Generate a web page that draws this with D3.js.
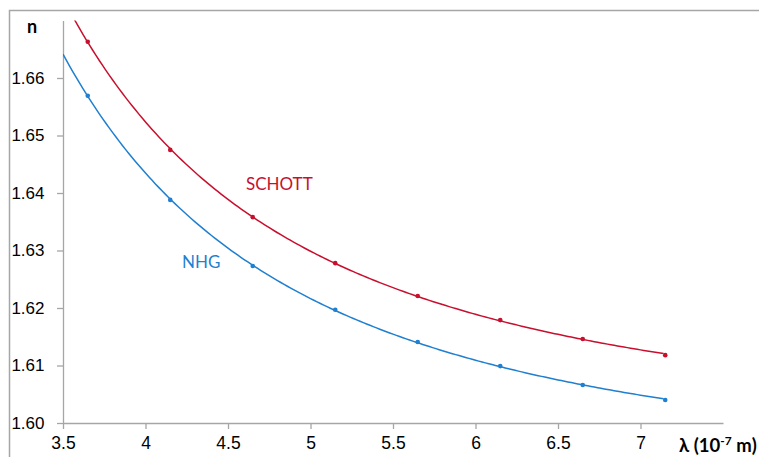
<!DOCTYPE html>
<html>
<head>
<meta charset="utf-8">
<script src="https://cdn.jsdelivr.net/npm/d3@7"></script>
<style>
  body { margin: 0; background: #fff; }
  svg { display: block; font-family: Lato, "Liberation Sans", sans-serif; }
</style>
</head>
<body>
<svg id="chart" width="759" height="457"></svg>
<script>
// wavelength in 10^-7 m, refractive index n
const wavelengths = [3.65, 4.15, 4.65, 5.15, 5.65, 6.15, 6.65, 7.15];
const schott = [1.6663, 1.6475, 1.6358, 1.6278, 1.6221, 1.6179, 1.6146, 1.6118];
const nhg    = [1.6569, 1.6388, 1.6273, 1.6197, 1.6141, 1.6099, 1.6066, 1.6040];
const xTicks = [3.5, 4, 4.5, 5, 5.5, 6, 6.5, 7];
const yTicks = [1.60, 1.61, 1.62, 1.63, 1.64, 1.65, 1.66];

const svg = d3.select("#chart");
const W = 759, H = 457;

// outer frame (only top and left visible in the picture)
svg.append("path")
  .attr("d", `M9.5,${H} V10.5 H${W}`)
  .attr("fill", "none")
  .attr("stroke", "#a6a6a6")
  .attr("stroke-width", 1.5);

const x = d3.scaleLinear().domain([3.5, 7.5]).range([63, 723]);
const y = d3.scaleLinear().domain([1.60, 1.67]).range([423, 20.5]);

// axes
const xAxis = svg.append("g")
  .attr("transform", `translate(0,${y(1.60)})`)
  .call(d3.axisBottom(x).tickValues(xTicks).tickSize(6).tickSizeOuter(0)
    .tickFormat(d => d3.format("")(d)));
xAxis.select(".domain").attr("stroke", "#a6a6a6").attr("stroke-width", 1.3);
xAxis.selectAll(".tick line").attr("stroke", "#a6a6a6").attr("stroke-width", 1.3);
xAxis.selectAll(".tick text")
  .attr("y", 14).attr("dy", "0.71em")
  .style("font-size", "17.5px").attr("fill", "#000");

const yAxis = svg.append("g")
  .attr("transform", `translate(${x(3.5)},0)`)
  .call(d3.axisLeft(y).tickValues(yTicks).tickSize(6).tickSizeOuter(0)
    .tickFormat(d3.format(".2f")));
yAxis.select(".domain").attr("stroke", "#a6a6a6").attr("stroke-width", 1.3);
yAxis.selectAll(".tick text")
  .attr("x", -18.5)
  .style("font-size", "17px").attr("fill", "#000");
yAxis.selectAll(".tick line").attr("stroke", "#a6a6a6").attr("stroke-width", 1.3);

// axis titles
svg.append("text")
  .attr("x", 32).attr("y", 33)
  .attr("text-anchor", "middle")
  .style("font-size", "18px").style("font-weight", "bold")
  .text("n");

const xt = svg.append("text")
  .attr("x", 679).attr("y", 452)
  .style("font-size", "18.5px").style("font-weight", "bold");
xt.append("tspan").text("λ (10");
xt.append("tspan").attr("dy", -7).style("font-size", "12px").text("-7");
xt.append("tspan").attr("dy", 7).text(" m)");

// least squares fit n = A + B/λ² + C/λ⁴ (trend line, as in the original)
function fitCauchy(xs, ys) {
  const rows = xs.map(v => [1, 1 / (v * v), 1 / (v ** 4)]);
  const M = [[0,0,0],[0,0,0],[0,0,0]], b = [0,0,0];
  rows.forEach((r, k) => {
    for (let i = 0; i < 3; i++) {
      b[i] += r[i] * ys[k];
      for (let j = 0; j < 3; j++) M[i][j] += r[i] * r[j];
    }
  });
  // gaussian elimination
  for (let i = 0; i < 3; i++) {
    for (let k = i + 1; k < 3; k++) {
      const f = M[k][i] / M[i][i];
      for (let j = i; j < 3; j++) M[k][j] -= f * M[i][j];
      b[k] -= f * b[i];
    }
  }
  const c = [0,0,0];
  for (let i = 2; i >= 0; i--) {
    let s = b[i];
    for (let j = i + 1; j < 3; j++) s -= M[i][j] * c[j];
    c[i] = s / M[i][i];
  }
  return v => c[0] + c[1] / (v * v) + c[2] / (v ** 4);
}

svg.append("clipPath").attr("id", "plot-clip")
  .append("rect").attr("x", 63).attr("y", 20.5).attr("width", 660).attr("height", 403);

const series = [
  { name: "SCHOTT", values: schott, color: "#c8102e", label: [246, 190] },
  { name: "NHG", values: nhg, color: "#1f7fd0", label: [182, 268] }
];

const line = d3.line().x(d => x(d[0])).y(d => y(d[1])).curve(d3.curveLinear);

series.forEach(s => {
  const f = fitCauchy(wavelengths, s.values);
  const pts = d3.range(3.5, 7.15001, 0.02).map(v => [v, f(v)]);
  svg.append("path")
    .attr("clip-path", "url(#plot-clip)")
    .attr("d", line(pts))
    .attr("fill", "none")
    .attr("stroke", s.color)
    .attr("stroke-width", 1.5);

  svg.append("g").selectAll("circle")
    .data(wavelengths.map((w, i) => [w, s.values[i]]))
    .enter().append("circle")
    .attr("cx", d => x(d[0]))
    .attr("cy", d => y(d[1]))
    .attr("r", 2.3)
    .attr("fill", s.color);

  svg.append("text")
    .attr("x", s.label[0]).attr("y", s.label[1])
    .style("font-size", "17px")
    .attr("fill", s.color)
    .text(s.name);
});
</script>
</body>
</html>
